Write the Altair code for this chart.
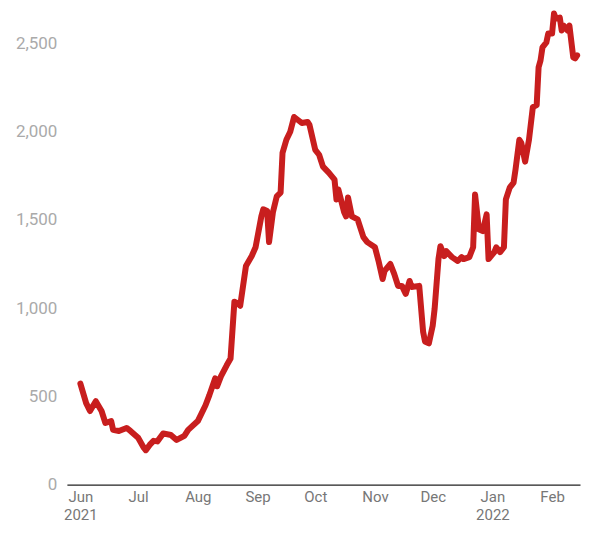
import altair as alt
import pandas as pd

dates = [
    "2021-06-01", "2021-06-04", "2021-06-06", "2021-06-09", "2021-06-12", "2021-06-14",
    "2021-06-17", "2021-06-18", "2021-06-21", "2021-06-25", "2021-06-27", "2021-07-01",
    "2021-07-04", "2021-07-05", "2021-07-07", "2021-07-09", "2021-07-11", "2021-07-14",
    "2021-07-18", "2021-07-21", "2021-07-25", "2021-07-27", "2021-08-01", "2021-08-05",
    "2021-08-07", "2021-08-10", "2021-08-11", "2021-08-13", "2021-08-16", "2021-08-18",
    "2021-08-20", "2021-08-22", "2021-08-23", "2021-08-26", "2021-08-29", "2021-08-31",
    "2021-09-03", "2021-09-04", "2021-09-06", "2021-09-07", "2021-09-09", "2021-09-11",
    "2021-09-13", "2021-09-14", "2021-09-16", "2021-09-18", "2021-09-20", "2021-09-22",
    "2021-09-24", "2021-09-27", "2021-09-28", "2021-10-01", "2021-10-03", "2021-10-05",
    "2021-10-08", "2021-10-11", "2021-10-12", "2021-10-13", "2021-10-16", "2021-10-17",
    "2021-10-18", "2021-10-20", "2021-10-23", "2021-10-26", "2021-10-28", "2021-11-01",
    "2021-11-03", "2021-11-05", "2021-11-06", "2021-11-09", "2021-11-11", "2021-11-13",
    "2021-11-15", "2021-11-17", "2021-11-19", "2021-11-20", "2021-11-24", "2021-11-26",
    "2021-11-27", "2021-11-29", "2021-12-01", "2021-12-02", "2021-12-04", "2021-12-05",
    "2021-12-07", "2021-12-08", "2021-12-11", "2021-12-14", "2021-12-16", "2021-12-17",
    "2021-12-20", "2021-12-22", "2021-12-23", "2021-12-25", "2021-12-27", "2021-12-29",
    "2021-12-30", "2022-01-02", "2022-01-03", "2022-01-05", "2022-01-07", "2022-01-08",
    "2022-01-10", "2022-01-12", "2022-01-13", "2022-01-15", "2022-01-16", "2022-01-18",
    "2022-01-20", "2022-01-22", "2022-01-24", "2022-01-25", "2022-01-26", "2022-01-27",
    "2022-01-29", "2022-01-30", "2022-02-01", "2022-02-02", "2022-02-03", "2022-02-05",
    "2022-02-06", "2022-02-07", "2022-02-09", "2022-02-10", "2022-02-12", "2022-02-13",
    "2022-02-14",
]
values = [
    572, 462, 417, 473, 417, 349,
    360, 310, 304, 321, 304, 265,
    208, 195, 225, 248, 245, 290,
    281, 253, 276, 310, 360, 450,
    507, 602, 557, 613, 676, 715,
    1036, 1025, 1013, 1239, 1295, 1345,
    1520, 1560, 1550, 1374, 1543, 1633,
    1655, 1880, 1954, 1999, 2083, 2066,
    2049, 2055, 2038, 1897, 1869, 1802,
    1768, 1728, 1616, 1672, 1543, 1520,
    1627, 1520, 1503, 1402, 1374, 1345,
    1261, 1165, 1211, 1250, 1194, 1126,
    1126, 1081, 1154, 1120, 1126, 867,
    811, 800, 901, 997, 1278, 1351,
    1295, 1323, 1289, 1267, 1289, 1278,
    1289, 1345, 1644, 1447, 1436, 1531,
    1278, 1317, 1345, 1317, 1345, 1616,
    1683, 1711, 1785, 1954, 1937, 1830,
    1954, 2139, 2150, 2365, 2404, 2477,
    2505, 2556, 2556, 2669, 2640, 2646,
    2573, 2601, 2573, 2601, 2421, 2415,
    2432,
]

y_ticks = [0, 500, 1000, 1500, 2000, 2500]
month_ticks = [(2021, 6), (2021, 7), (2021, 8), (2021, 9), (2021, 10), (2021, 11),
               (2021, 12), (2022, 1), (2022, 2)]

df = pd.DataFrame({"date": [d + "T00:00:00" for d in dates], "value": values})

label_expr = (
    "(month(datum.value) == 0 || datum.index == 0) ? "
    "[timeFormat(datum.value, '%b'), timeFormat(datum.value, '%Y')] : "
    "timeFormat(datum.value, '%b')"
)

chart = (
    alt.Chart(df)
    .mark_line(color="#c81e1e", strokeWidth=6, strokeJoin="round", strokeCap="round")
    .encode(
        x=alt.X(
            "date:T",
            title=None,
            scale=alt.Scale(domain=[alt.DateTime(year=2021, month=5, date=25),
                                    alt.DateTime(year=2022, month=2, date=15, hours=12)]),
            axis=alt.Axis(
                values=[alt.DateTime(year=y, month=m, date=1) for y, m in month_ticks],
                labelExpr=label_expr,
                ticks=False,
                grid=False,
                domainColor="#222222",
                domainWidth=1.2,
                labelColor="#777777",
                labelFont="Roboto",
                labelFontSize=15,
                labelPadding=5,
                labelLineHeight=18,
                labelAlign="center",
                labelBaseline="top",
            ),
        ),
        y=alt.Y(
            "value:Q",
            title=None,
            scale=alt.Scale(domain=[0, 2698], nice=False),
            axis=alt.Axis(
                values=y_ticks,
                format=",d",
                ticks=False,
                grid=False,
                domain=False,
                labelColor="#aaaaaa",
                labelFont="Roboto",
                labelFontSize=17,
                labelPadding=10,
                minExtent=59,
                maxExtent=59,
            ),
        ),
    )
    .properties(width=514, height=477, background="white",
                padding={"left": 0, "top": 0, "right": 0, "bottom": 0})
    .configure_view(stroke=None, strokeWidth=0)
)

chart.save("out.html", embed_options={"renderer": "svg", "actions": False})
